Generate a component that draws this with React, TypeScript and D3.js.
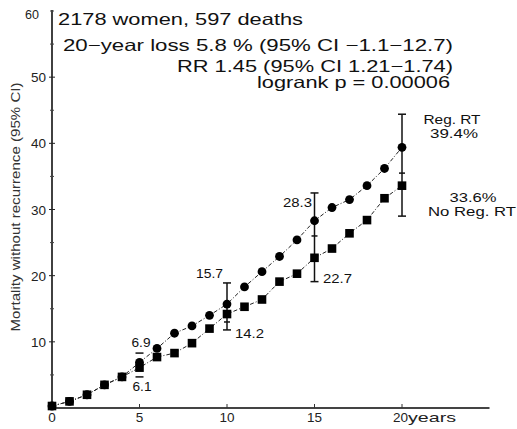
import React from "react";
import * as d3 from "d3";

const years = [0, 1, 2, 3, 4, 5, 6, 7, 8, 9, 10, 11, 12, 13, 14, 15, 16, 17, 18, 19, 20];
const regRT = [0.3, 1.0, 2.0, 3.5, 4.7, 6.9, 9.0, 11.3, 12.4, 14.0, 15.7, 18.3, 20.6, 22.9, 25.4, 28.3, 30.3, 31.5, 33.6, 36.2, 39.4];
const noRegRT = [0.3, 1.0, 2.0, 3.5, 4.7, 6.1, 7.7, 8.3, 9.8, 12.0, 14.2, 15.3, 16.4, 19.1, 20.3, 22.7, 24.1, 26.4, 28.4, 31.7, 33.6];
const ciYears = [5, 10, 15, 20];
const ciLow = [4.7, 11.8, 19.1, 29.0];
const ciHigh = [8.3, 18.9, 32.5, 44.4];
const ciMid = [null, 13.0, 26.0, 35.5];
const ciShowLine = [false, true, true, true];
const yTicks = [10, 20, 30, 40, 50];
const yMinor = [5, 15, 25, 35, 45, 55, 60];
const xTicks = [0, 5, 10, 15, 20];
const headerLines = [
  "2178 women, 597 deaths",
  "20−year loss  5.8 % (95% CI −1.1−12.7)",
  "RR 1.45 (95% CI 1.21−1.74)",
  "logrank p = 0.00006",
];

const W = 517, H = 429;
const x = d3.scaleLinear().domain([0, 25]).range([52, 489.5]);
const y = d3.scaleLinear().domain([0, 60]).range([408, 11]);
const font = "Liberation Sans, Arial, sans-serif";

function T(props: { x: number; y: number; w?: number; size: number; anchor?: string; children: React.ReactNode; transform?: string; fill?: string }) {
  const { x: tx, y: ty, w, size, anchor, children, transform, fill } = props;
  return (
    <text
      x={tx}
      y={ty}
      fontSize={size}
      textAnchor={anchor || "start"}
      fill={fill || "#111"}
      transform={transform}
      {...(w ? { textLength: w, lengthAdjust: "spacingAndGlyphs" } : {})}
    >
      {children}
    </text>
  );
}

export default function App() {
  const line = d3.line<number>().x((_, i) => x(years[i])).y((d) => y(d));
  return (
    <svg width={W} height={H} style={{ position: "absolute", left: 0, top: 0, background: "#fff" }} fontFamily={font}>
      {/* axes */}
      <line x1={x(0)} x2={x(0)} y1={y(0)} y2={y(60) - 1} stroke="#111" strokeWidth={1.6} />
      <line x1={x(0)} x2={x(25)} y1={y(0)} y2={y(0)} stroke="#444" strokeWidth={1.8} />
      {yTicks.map((t) => (
        <g key={"yt" + t}>
          <line x1={x(0) - 3} x2={x(0) + 3} y1={y(t)} y2={y(t)} stroke="#222" strokeWidth={1} />
          <T x={x(0) - 6} y={y(t) + 5} size={13.5} anchor="end" fill="#222">{t}</T>
        </g>
      ))}
      {yMinor.map((t) => (
        <line key={"ym" + t} x1={x(0) - 2} x2={x(0) + 2} y1={y(t)} y2={y(t)} stroke="#444" strokeWidth={1} />
      ))}
      <T x={39} y={19} size={12.5} anchor="end" fill="#222">60</T>
      {xTicks.map((t) => (
        <g key={"xt" + t}>
          <line x1={x(t)} x2={x(t)} y1={y(0)} y2={y(0) - 4} stroke="#333" strokeWidth={1} />
          {t < 20 ? (
            <T x={x(t)} y={422} size={13.5} anchor="middle" fill="#222">{t}</T>
          ) : (
            <T x={x(t) - 9} y={422} size={13.5} fill="#222">{t}</T>
          )}
        </g>
      ))}
      <T x={x(20) + 6} y={422} size={13.5} w={48} fill="#222">years</T>
      <T x={0} y={0} size={13} anchor="middle" w={249} fill="#333" transform={`translate(20,207) rotate(-90)`}>
        Mortality without recurrence (95% CI)
      </T>

      {/* header */}
      <T x={58} y={25} size={16.5} w={245}>{headerLines[0]}</T>
      <T x={63} y={51} size={16.5} w={390}>{headerLines[1]}</T>
      <T x={453} y={72} size={16.5} anchor="end" w={276}>{headerLines[2]}</T>
      <T x={450} y={88} size={16.5} anchor="end" w={193}>{headerLines[3]}</T>

      {/* CI bars */}
      {ciYears.map((t, i) => (
        <g key={"ci" + t} stroke="#111" strokeWidth={1.5}>
          {ciShowLine[i] && <line x1={x(t)} x2={x(t)} y1={y(ciLow[i])} y2={y(ciHigh[i])} />}
          <line x1={x(t) - 4} x2={x(t) + 4} y1={y(ciLow[i])} y2={y(ciLow[i])} />
          <line x1={x(t) - 4} x2={x(t) + 4} y1={y(ciHigh[i])} y2={y(ciHigh[i])} />
          {ciMid[i] != null && (
            <line x1={x(t) - 3} x2={x(t) + 3} y1={y(ciMid[i] as number)} y2={y(ciMid[i] as number)} />
          )}
        </g>
      ))}

      {/* lines */}
      <path d={line(regRT) || ""} fill="none" stroke="#222" strokeWidth={1} strokeDasharray="4,2,1,2" />
      <path d={line(noRegRT) || ""} fill="none" stroke="#222" strokeWidth={1} strokeDasharray="4,2,1,2" />
      {regRT.map((v, i) => (
        <circle key={"r" + i} cx={x(years[i])} cy={y(v)} r={4.4} fill="#000" />
      ))}
      {noRegRT.map((v, i) => (
        <rect key={"n" + i} x={x(years[i]) - 4.3} y={y(v) - 4.3} width={8.6} height={8.6} fill="#000" />
      ))}

      {/* value labels */}
      <T x={141} y={347} size={13} anchor="middle" w={19}>{regRT[5]}</T>
      <T x={142} y={391} size={13} anchor="middle" w={19}>{noRegRT[5]}</T>
      <T x={223} y={278} size={13} anchor="end" w={27}>{regRT[10]}</T>
      <T x={235} y={338} size={13} w={29}>{noRegRT[10]}</T>
      <T x={312} y={207} size={13} anchor="end" w={29}>{regRT[15]}</T>
      <T x={323} y={283} size={13} w={29}>{noRegRT[15]}</T>
      <T x={452} y={124} size={13} anchor="middle" w={57}>Reg. RT</T>
      <T x={454} y={138} size={13} anchor="middle" w={48}>{regRT[20] + "%"}</T>
      <T x={473} y={202} size={13} anchor="middle" w={47}>{noRegRT[20] + "%"}</T>
      <T x={472} y={216} size={13} anchor="middle" w={88}>No Reg. RT</T>
    </svg>
  );
}
